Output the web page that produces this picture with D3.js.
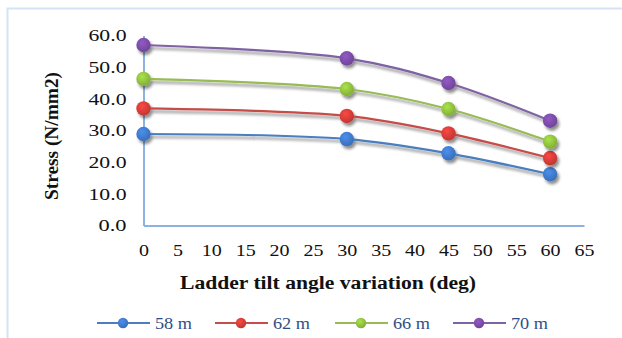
<!DOCTYPE html>
<html>
<head>
<meta charset="utf-8">
<script src="https://cdn.jsdelivr.net/npm/d3@7"></script>
<style>
  html, body { margin: 0; padding: 0; background: #fff; }
  svg { display: block; font-family: "Liberation Serif", "Times New Roman", serif; }
</style>
</head>
<body>
<svg id="chart" width="622" height="338"></svg>
<script>
// Ladder tilt angle (deg) at which stress was evaluated
const angles = [0, 30, 45, 60];
// Stress (N/mm2) for each ladder height
const stress58 = [28.9, 27.3, 22.8, 16.2];
const stress62 = [37.0, 34.6, 29.1, 21.3];
const stress66 = [46.3, 43.1, 36.8, 26.5];
const stress70 = [57.0, 52.8, 45.0, 33.1];
const seriesNames = ["58 m", "62 m", "66 m", "70 m"];
const xTicks = [0, 5, 10, 15, 20, 25, 30, 35, 40, 45, 50, 55, 60, 65];
const yTicks = [0, 10, 20, 30, 40, 50, 60];

const seriesValues = [stress58, stress62, stress66, stress70];
const lineColors = ["#4A7EBF", "#C54E4A", "#98BC55", "#7F62A3"];
const markColors = ["#3F78C8", "#D23C38", "#8EBE3E", "#7A4BA6"];

const svg = d3.select("#chart");
const defs = svg.append("defs");

// soft drop shadow used under lines and markers
const shadow = defs.append("filter").attr("id", "shadow")
  .attr("x", "-20%").attr("y", "-20%").attr("width", "140%").attr("height", "160%");
shadow.append("feGaussianBlur").attr("in", "SourceAlpha").attr("stdDeviation", 1.6).attr("result", "b");
shadow.append("feOffset").attr("in", "b").attr("dx", 1.5).attr("dy", 2.5).attr("result", "o");
shadow.append("feComponentTransfer").attr("in", "o").attr("result", "s")
  .append("feFuncA").attr("type", "linear").attr("slope", 0.45);
const merge = shadow.append("feMerge");
merge.append("feMergeNode").attr("in", "s");
merge.append("feMergeNode").attr("in", "SourceGraphic");

// glossy marker fills
markColors.forEach((c, i) => {
  const g = defs.append("radialGradient").attr("id", "mk" + i)
    .attr("cx", "40%").attr("cy", "35%").attr("r", "65%");
  g.append("stop").attr("offset", "0%").attr("stop-color", d3.color(c).brighter(0.5));
  g.append("stop").attr("offset", "100%").attr("stop-color", d3.color(c).darker(0.25));
});

// chart area frame
svg.append("path")
  .attr("d", "M7.5,338 L7.5,8.5 L622,8.5")
  .attr("fill", "none").attr("stroke", "#D5E3F4").attr("stroke-width", 2);

const x = d3.scaleLinear().domain([0, 65]).range([143.5, 584]);
const y = d3.scaleLinear().domain([0, 60]).range([225.5, 35.5]);

// axes
const yFmt = d3.format(".1f");
const xAxis = svg.append("g").attr("transform", `translate(0,${y(0)})`)
  .call(d3.axisBottom(x).tickValues(xTicks).tickSize(0).tickPadding(18).tickFormat(d3.format("d")));
const yAxis = svg.append("g").attr("transform", `translate(${x(0)},0)`)
  .call(d3.axisLeft(y).tickValues(yTicks).tickSize(0).tickPadding(17).tickFormat(yFmt));
[xAxis, yAxis].forEach(a => {
  a.select(".domain").attr("stroke", "#8DB2E2").attr("stroke-width", 2);
  a.selectAll("text").attr("fill", "#111").attr("font-size", 17)
    .attr("font-family", "'Liberation Serif', serif");
});
// the labels are set a little wider than the plain glyphs
xAxis.selectAll("text")
  .attr("textLength", d => String(d).length * 10)
  .attr("lengthAdjust", "spacingAndGlyphs");
yAxis.selectAll("text")
  .attr("textLength", d => (yFmt(d).length - 1) * 10 + 8)
  .attr("lengthAdjust", "spacingAndGlyphs");

// axis titles
svg.append("text").attr("x", 328).attr("y", 289).attr("text-anchor", "middle")
  .attr("font-size", 18).attr("font-weight", "bold").attr("fill", "#111")
  .attr("textLength", 296).attr("lengthAdjust", "spacingAndGlyphs")
  .text("Ladder tilt angle variation (deg)");
svg.append("text").attr("transform", "translate(58,136) rotate(-90)")
  .attr("text-anchor", "middle").attr("font-size", 18).attr("font-weight", "bold").attr("fill", "#111")
  .attr("textLength", 128).attr("lengthAdjust", "spacingAndGlyphs")
  .text("Stress (N/mm2)");

// series
const line = d3.line().x(d => x(d[0])).y(d => y(d[1])).curve(d3.curveCatmullRom.alpha(0.5));
seriesValues.forEach((vals, i) => {
  const pts = angles.map((a, j) => [a, vals[j]]);
  const g = svg.append("g").attr("filter", "url(#shadow)");
  g.append("path").datum(pts).attr("d", line)
    .attr("fill", "none").attr("stroke", lineColors[i]).attr("stroke-width", 2.2);
  g.selectAll("circle").data(pts).join("circle")
    .attr("cx", d => x(d[0])).attr("cy", d => y(d[1])).attr("r", 7.2)
    .attr("fill", `url(#mk${i})`);
});

// legend
const legendX = [97, 215, 335, 453];
const legend = svg.append("g").attr("transform", "translate(0,323)");
seriesNames.forEach((name, i) => {
  const g = legend.append("g").attr("transform", `translate(${legendX[i]},0)`);
  g.append("line").attr("x1", 0).attr("x2", 53).attr("stroke", lineColors[i]).attr("stroke-width", 2.2);
  g.append("circle").attr("cx", 26).attr("r", 5.2).attr("fill", `url(#mk${i})`);
  g.append("text").attr("x", 58).attr("y", 6).attr("font-size", 17).attr("fill", "#2E4E86")
    .attr("textLength", 37).attr("lengthAdjust", "spacingAndGlyphs")
    .text(name);
});
</script>
</body>
</html>
